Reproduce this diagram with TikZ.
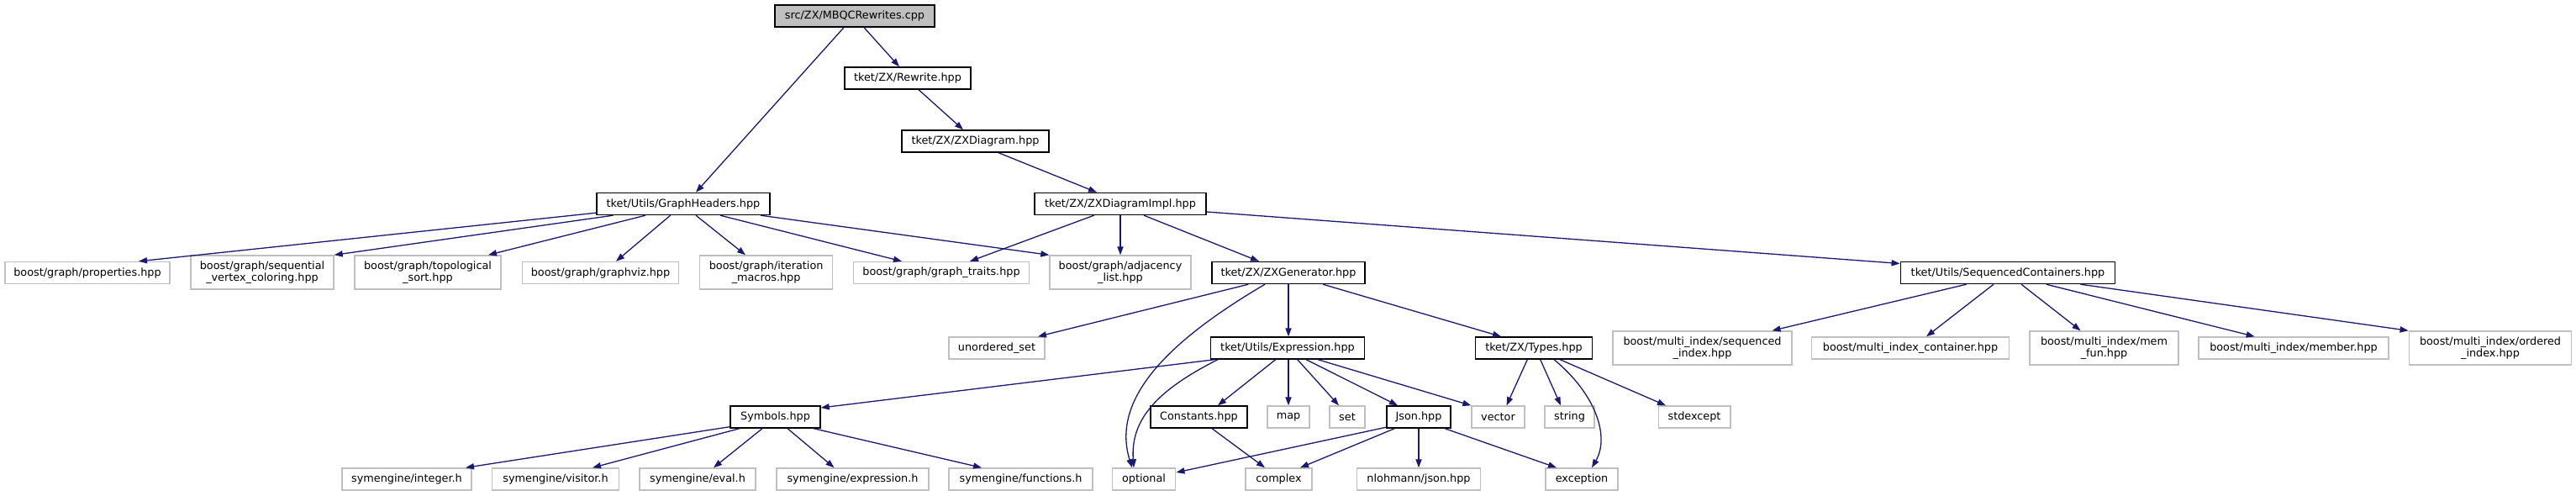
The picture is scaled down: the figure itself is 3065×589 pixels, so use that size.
\documentclass[tikz,border=0pt]{standalone}
\usepackage{fontspec}
\newfontfamily\dvs{DejaVu Sans}
\usetikzlibrary{arrows.meta,calc}
\definecolor{edgeblue}{HTML}{191970}
\definecolor{extgray}{HTML}{BFBFBF}
\definecolor{maingray}{HTML}{BFBFBF}
\tikzset{
  w/.style={minimum width={#1*0.5pt}},
  base/.style={inner sep=0pt, align=center, font=\dvs\fontsize{6.4}{7}\selectfont, minimum height=13pt, line width=0.7pt, fill=white},
  nd/.style={base, draw=black},
  ext/.style={base, draw=extgray},
  ext2/.style={ext, minimum height=20pt},
  e/.style={draw=edgeblue, line width=0.65pt, -{Triangle[length=5pt,width=3.6pt]}},
}
\begin{document}
\begin{tikzpicture}[x=0.5pt,y=-0.5pt]
\useasboundingbox[fill=white] (0,0) rectangle (3065,589);
% row 0-1
\node[nd,w=190,fill=maingray] (mbqc) at (1017,19) {src/ZX/MBQCRewrites.cpp};
\node[nd,w=150] (rew) at (1080,93) {tket/ZX/Rewrite.hpp};
\node[nd,w=175] (zxd) at (1160.5,168) {tket/ZX/ZXDiagram.hpp};
\node[nd,w=204] (impl) at (1333,242.5) {tket/ZX/ZXDiagramImpl.hpp};
\node[nd,w=206] (gh) at (813,242.5) {tket/Utils/GraphHeaders.hpp};
% row 2
\node[ext,w=196] (prop) at (104,324.5) {boost/graph/properties.hpp};
\node[ext2,w=170] (seq) at (312,324) {boost/graph/sequential\\\_vertex\_coloring.hpp};
\node[ext2,w=174] (topo) at (509,324) {boost/graph/topological\\\_sort.hpp};
\node[ext,w=186] (gviz) at (714.5,324.5) {boost/graph/graphviz.hpp};
\node[ext2,w=158] (iter) at (911.6,324) {boost/graph/iteration\\\_macros.hpp};
\node[ext,w=209.5] (gtr) at (1120,324.5) {boost/graph/graph\_traits.hpp};
\node[ext2,w=168] (adj) at (1333,324) {boost/graph/adjacency\\\_list.hpp};
\node[nd,w=182] (zxg) at (1533,324.5) {tket/ZX/ZXGenerator.hpp};
\node[nd,w=255.5] (sc) at (2389,324.5) {tket/Utils/SequencedContainers.hpp};
% row 3
\node[ext,w=114] (uset) at (1186,414) {unordered\_set};
\node[nd,w=183.5] (expr) at (1532,414) {tket/Utils/Expression.hpp};
\node[nd,w=138.5] (types) at (1825,414) {tket/ZX/Types.hpp};
\node[ext2,w=213] (seqi) at (2025.5,414) {boost/multi\_index/sequenced\\\_index.hpp};
\node[ext,w=235] (mic) at (2273,414) {boost/multi\_index\_container.hpp};
\node[ext2,w=177] (memf) at (2503.5,414) {boost/multi\_index/mem\\\_fun.hpp};
\node[ext,w=226] (memb) at (2729,414) {boost/multi\_index/member.hpp};
\node[ext2,w=193.5] (ordi) at (2963,414) {boost/multi\_index/ordered\\\_index.hpp};
% row 4
\node[nd,w=107] (sym) at (922.5,496) {Symbols.hpp};
\node[nd,w=115] (const) at (1426.5,496) {Constants.hpp};
\node[ext,w=50] (map) at (1533,496) {map};
\node[ext,w=42] (set) at (1603,496) {set};
\node[nd,w=76] (json) at (1688,496) {Json.hpp};
\node[ext,w=63] (vec) at (1782.5,496) {vector};
\node[ext,w=59] (str) at (1867.5,496) {string};
\node[ext,w=85.6] (stde) at (2016,496) {stdexcept};
% row 5
\node[ext,w=154] (sint) at (484,570) {symengine/integer.h};
\node[ext,w=151] (svis) at (661,570) {symengine/visitor.h};
\node[ext,w=138] (seval) at (830,570) {symengine/eval.h};
\node[ext,w=181] (sexpr) at (1014.5,570) {symengine/expression.h};
\node[ext,w=171] (sfun) at (1214.5,570) {symengine/functions.h};
\node[ext,w=75.5] (opt) at (1361,570) {optional};
\node[ext,w=79] (cplx) at (1521.5,570) {complex};
\node[ext,w=146.5] (nloh) at (1688,570) {nlohmann/json.hpp};
\node[ext,w=86] (exc) at (1882,570) {exception};
% edges
\draw[e] ($(mbqc.south)+(11,0)$) -- ($(rew.north)+(-10,0)$);
\draw[e] ($(mbqc.south)+(-13,0)$) -- ($(gh.north)+(15,0)$);
\draw[e] ($(rew.south)+(13,0)$) -- ($(zxd.north)+(-14.5,0)$);
\draw[e] ($(zxd.south)+(27.5,0)$) -- ($(impl.north)+(-28,0)$);
\draw[e] ($(impl.south)+(-31.4,0)$) -- ($(gtr.north)+(34,0)$);
\draw[e] (impl.south) -- (adj.north);
\draw[e] ($(impl.south)+(28,0)$) -- ($(zxg.north)+(-35,0)$);
\draw[e] ($(impl.east)+(0,9.5)$) -- ($(sc.west)+(0,-11)$);
% GraphHeaders
\draw[e] ($(gh.south west)+(0,-3)$) -- ($(prop.north)+(61,0)$);
\draw[e] ($(gh.south)+(-83.4,0)$) -- (seq.north east);
\draw[e] ($(gh.south)+(-45,0)$) -- ($(topo.north)+(72,0)$);
\draw[e] ($(gh.south)+(-15.4,0)$) -- ($(gviz.north)+(18.5,0)$);
\draw[e] ($(gh.south)+(15,0)$) -- ($(iter.north)+(-24.6,0)$);
\draw[e] ($(gh.south)+(44,0)$) -- ($(gtr.north)+(-47,0)$);
\draw[e] ($(gh.south)+(92,0)$) -- (adj.north west);
% SequencedContainers
\draw[e] ($(sc.south)+(-49.4,0)$) -- ($(seqi.north)+(83,0)$);
\draw[e] ($(sc.south)+(-17,0)$) -- ($(mic.north)+(19,0)$);
\draw[e] ($(sc.south)+(16,0)$) -- ($(memf.north)+(-28,0)$);
\draw[e] ($(sc.south)+(45.7,0)$) -- ($(memb.north)+(-46.4,0)$);
\draw[e] ($(sc.south)+(86.4,0)$) -- (ordi.north west);
% ZXGenerator
\draw[e] ($(zxg.south)+(-47.6,0)$) -- ($(uset.north)+(49,0)$);
\draw[e] (zxg.south) -- ($(expr.north)+(1,0)$);
\draw[e] ($(zxg.south)+(41,0)$) -- ($(types.north)+(-39,0)$);
\draw[e] ($(zxg.south)+(-28,0)$) .. controls (1400,400) and (1320,470) .. ($(opt.north)+(-14,0)$);
% Expression
\draw[e] ($(expr.south)+(-86.5,0)$) -- ($(sym.east)+(0,-11)$);
\draw[e] ($(expr.south)+(-14.3,0)$) -- ($(const.north)+(22.5,0)$);
\draw[e] ($(expr.south)+(1,0)$) -- (map.north);
\draw[e] ($(expr.south)+(11.7,0)$) -- ($(set.north)+(-10,0)$);
\draw[e] ($(expr.south)+(22,0)$) -- ($(json.north)+(-25,0)$);
\draw[e] ($(expr.south)+(36,0)$) -- (vec.north west);
\draw[e] ($(expr.south)+(-83,0)$) .. controls (1375,465) and (1345,500) .. ($(opt.north)+(-12,0)$);
% Types
\draw[e] ($(types.south)+(-7.7,0)$) -- ($(vec.north)+(10,0)$);
\draw[e] ($(types.south)+(7.7,0)$) -- ($(str.north)+(-10.5,0)$);
\draw[e] ($(types.south)+(24,0)$) .. controls (1900,470) and (1915,520) .. ($(exc.north)+(12,0)$);
\draw[e] ($(types.south)+(31,0)$) -- ($(stde.north)+(-34,0)$);
% Constants, Json
\draw[e] ($(const.south)+(15.5,0)$) -- ($(cplx.north)+(-16.5,0)$);
\draw[e] ($(json.south west)+(0,-1.5)$) -- ($(opt.east)+(0,-8)$);
\draw[e] ($(json.south)+(-28.6,0)$) -- ($(cplx.north)+(25.5,0)$);
\draw[e] (json.south) -- (nloh.north);
\draw[e] ($(json.south)+(31,0)$) -- ($(exc.north)+(-30,0)$);
% Symbols
\draw[e] ($(sym.south west)+(0,-2)$) -- ($(sint.north)+(70,0)$);
\draw[e] ($(sym.south)+(-42.5,0)$) -- ($(svis.north)+(44,0)$);
\draw[e] ($(sym.south)+(-15.5,0)$) -- ($(seval.north)+(19,0)$);
\draw[e] ($(sym.south)+(14.5,0)$) -- ($(sexpr.north)+(-22,0)$);
\draw[e] ($(sym.south)+(45.5,0)$) -- ($(sfun.north)+(-46.5,0)$);
\end{tikzpicture}
\end{document}
